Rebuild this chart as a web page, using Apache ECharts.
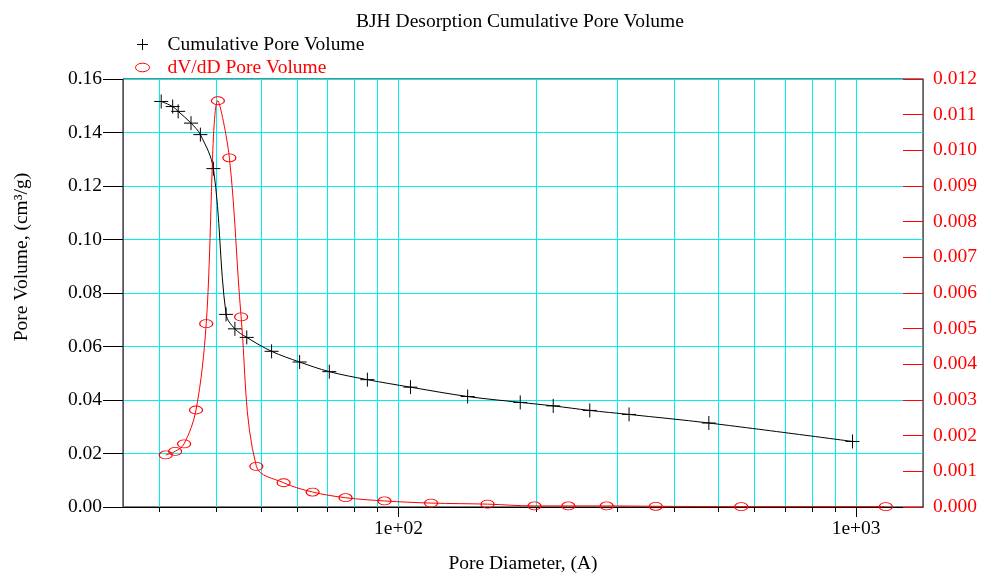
<!DOCTYPE html>
<html>
<head>
<meta charset="utf-8">
<script src="https://cdn.jsdelivr.net/npm/echarts@6/dist/echarts.min.js"></script>
<style>
html,body{margin:0;padding:0;background:#fff;}
#chart{width:984px;height:579px;}
</style>
</head>
<body>
<div id="chart"></div>
<script>
// ---- data ----
const titleText = 'BJH Desorption Cumulative Pore Volume';
const seriesNames = ['Cumulative Pore Volume', 'dV/dD Pore Volume'];
const xAxisName = 'Pore Diameter, (A)';
const yAxisName = 'Pore Volume, (cm\u00B3/g)';

const cumDiameter = [30.3, 32.1, 33.0, 35.2, 36.9, 39.4, 42.0, 43.9, 46.6, 52.8, 60.8, 70.6, 85.5, 106.2, 141.6, 184.5, 217.8, 261.8, 319, 476.6, 982];
const cumVolume   = [0.1516, 0.1497, 0.1479, 0.1435, 0.1392, 0.1265, 0.0720, 0.0666, 0.0634, 0.0582, 0.0542, 0.0506, 0.0476, 0.0448, 0.0413, 0.0391, 0.0378, 0.0361, 0.0346, 0.0314, 0.0245];

const dvDiameter = [31.0, 32.5, 34.0, 36.1, 38.0, 40.3, 42.7, 45.3, 48.9, 56.1, 64.9, 76.6, 93.2, 117.8, 156.5, 198.2, 235, 285, 365, 561, 1161];
const dvValue    = [0.00146, 0.00156, 0.00177, 0.00272, 0.00514, 0.01139, 0.00979, 0.00533, 0.00114, 0.00068, 0.00042, 0.00026, 0.00017, 0.00011, 0.00008, 0.00003, 0.00003, 0.00003, 0.00002, 0.00001, 0.00001];

const xMajorTicks = [100, 1000];
const xMinorTicks = [30, 40, 50, 60, 70, 80, 90, 100, 200, 300, 400, 500, 600, 700, 800, 900, 1000];
const xRange = [25, 1400];
const yLeftRange = [0, 0.16, 0.02];
const yRightRange = [0, 0.012, 0.001];

// ---- chart ----
const FONT = 'Liberation Serif';
const FS = 19.5;
const CYAN = '#00eef0';
const plusPath = 'path://M0,6L12,6M6,0L6,12';
const ellipsePath = 'path://M0,4A6.5,4,0,1,1,13,4A6.5,4,0,1,1,0,4Z';

const zip = (a, b) => a.map((v, i) => [v, b[i]]);

const chart = echarts.init(document.getElementById('chart'), null, {renderer: 'canvas'});
chart.setOption({
  backgroundColor: '#ffffff',
  animation: false,
  textStyle: {fontFamily: FONT},
  title: {
    text: titleText,
    left: 356, top: 12, padding: 0,
    textStyle: {fontFamily: FONT, fontSize: FS, fontWeight: 'normal', color: '#000'}
  },
  legend: {
    orient: 'vertical',
    left: 135, top: 33, padding: 0,
    itemGap: 0,
    itemWidth: 14, itemHeight: 11,
    symbolKeepAspect: true,
    selectedMode: false,
    textStyle: {fontFamily: FONT, fontSize: FS, lineHeight: 23, padding: [0, 0, 0, 13]},
    data: [
      {name: seriesNames[0], icon: plusPath,
       itemStyle: {color: 'rgba(0,0,0,0)', borderColor: '#000', borderWidth: 1},
       textStyle: {color: '#000'}},
      {name: seriesNames[1], icon: ellipsePath,
       itemStyle: {color: 'rgba(0,0,0,0)', borderColor: '#ff0000', borderWidth: 1},
       textStyle: {color: '#ff0000'}}
    ]
  },
  grid: {
    left: 123, right: 61, top: 79, bottom: 69,
    show: true, borderColor: '#000', borderWidth: 1, backgroundColor: 'transparent',
    containLabel: false
  },
  xAxis: [
    {
      type: 'log', logBase: 10, min: xRange[0], max: xRange[1],
      position: 'bottom',
      name: xAxisName, nameLocation: 'middle', nameGap: 47,
      nameTextStyle: {fontFamily: FONT, fontSize: FS, color: '#000'},
      axisLine: {show: true, lineStyle: {color: '#000', width: 1}},
      axisTick: {show: true, length: 10, customValues: xMajorTicks, lineStyle: {color: '#000'}},
      axisLabel: {show: true, customValues: xMajorTicks, margin: 12,
        fontFamily: FONT, fontSize: FS, color: '#000',
        formatter: v => '1e+0' + Math.round(Math.log10(v))},
      splitLine: {show: false},
      minorTick: {show: false}
    },
    {
      type: 'log', logBase: 10, min: xRange[0], max: xRange[1],
      position: 'bottom', gridIndex: 0,
      axisLine: {show: false},
      axisTick: {show: true, length: 5, customValues: xMinorTicks, lineStyle: {color: '#000'}},
      axisLabel: {show: false},
      splitLine: {show: true, lineStyle: {color: CYAN, width: 1}}
    }
  ],
  yAxis: [
    {
      type: 'value', position: 'left',
      min: yLeftRange[0], max: yLeftRange[1], interval: yLeftRange[2],
      axisLine: {show: true, lineStyle: {color: '#555', width: 1}},
      axisTick: {show: true, inside: false, length: 20, lineStyle: {color: '#000'}},
      axisLabel: {margin: 21, fontFamily: FONT, fontSize: FS, color: '#000',
        formatter: v => v.toFixed(2)},
      splitLine: {show: true, lineStyle: {color: CYAN, width: 1}}
    },
    {
      type: 'value', position: 'right',
      min: yRightRange[0], max: yRightRange[1], interval: yRightRange[2],
      axisLine: {show: true, lineStyle: {color: '#666', width: 1}},
      axisTick: {show: true, inside: true, length: 20, lineStyle: {color: '#ff0000', width: 1}},
      axisLabel: {margin: 10, fontFamily: FONT, fontSize: FS, color: '#ff0000',
        formatter: v => v.toFixed(3)},
      splitLine: {show: false}
    }
  ],
  graphic: [
    {
      type: 'text', x: 22, y: 257, rotation: Math.PI / 2,
      style: {text: yAxisName, fontFamily: FONT, fontSize: FS, fill: '#000',
        align: 'center', verticalAlign: 'middle'}
    }
  ],
  series: [
    {
      name: seriesNames[0], type: 'line',
      xAxisIndex: 0, yAxisIndex: 0,
      data: zip(cumDiameter, cumVolume),
      smooth: 0.35,
      symbol: plusPath, symbolSize: 14,
      showAllSymbol: true,
      lineStyle: {color: '#000', width: 1},
      itemStyle: {color: 'rgba(0,0,0,0)', borderColor: '#000', borderWidth: 1},
      emphasis: {disabled: true},
      z: 3
    },
    {
      name: seriesNames[1], type: 'line',
      xAxisIndex: 0, yAxisIndex: 1,
      data: zip(dvDiameter, dvValue),
      smooth: 0.35,
      symbol: ellipsePath, symbolSize: [13, 8],
      showAllSymbol: true,
      lineStyle: {color: '#ff0000', width: 1},
      itemStyle: {color: 'rgba(0,0,0,0)', borderColor: '#ff0000', borderWidth: 1},
      emphasis: {disabled: true},
      z: 3
    }
  ]
});
</script>
</body>
</html>
